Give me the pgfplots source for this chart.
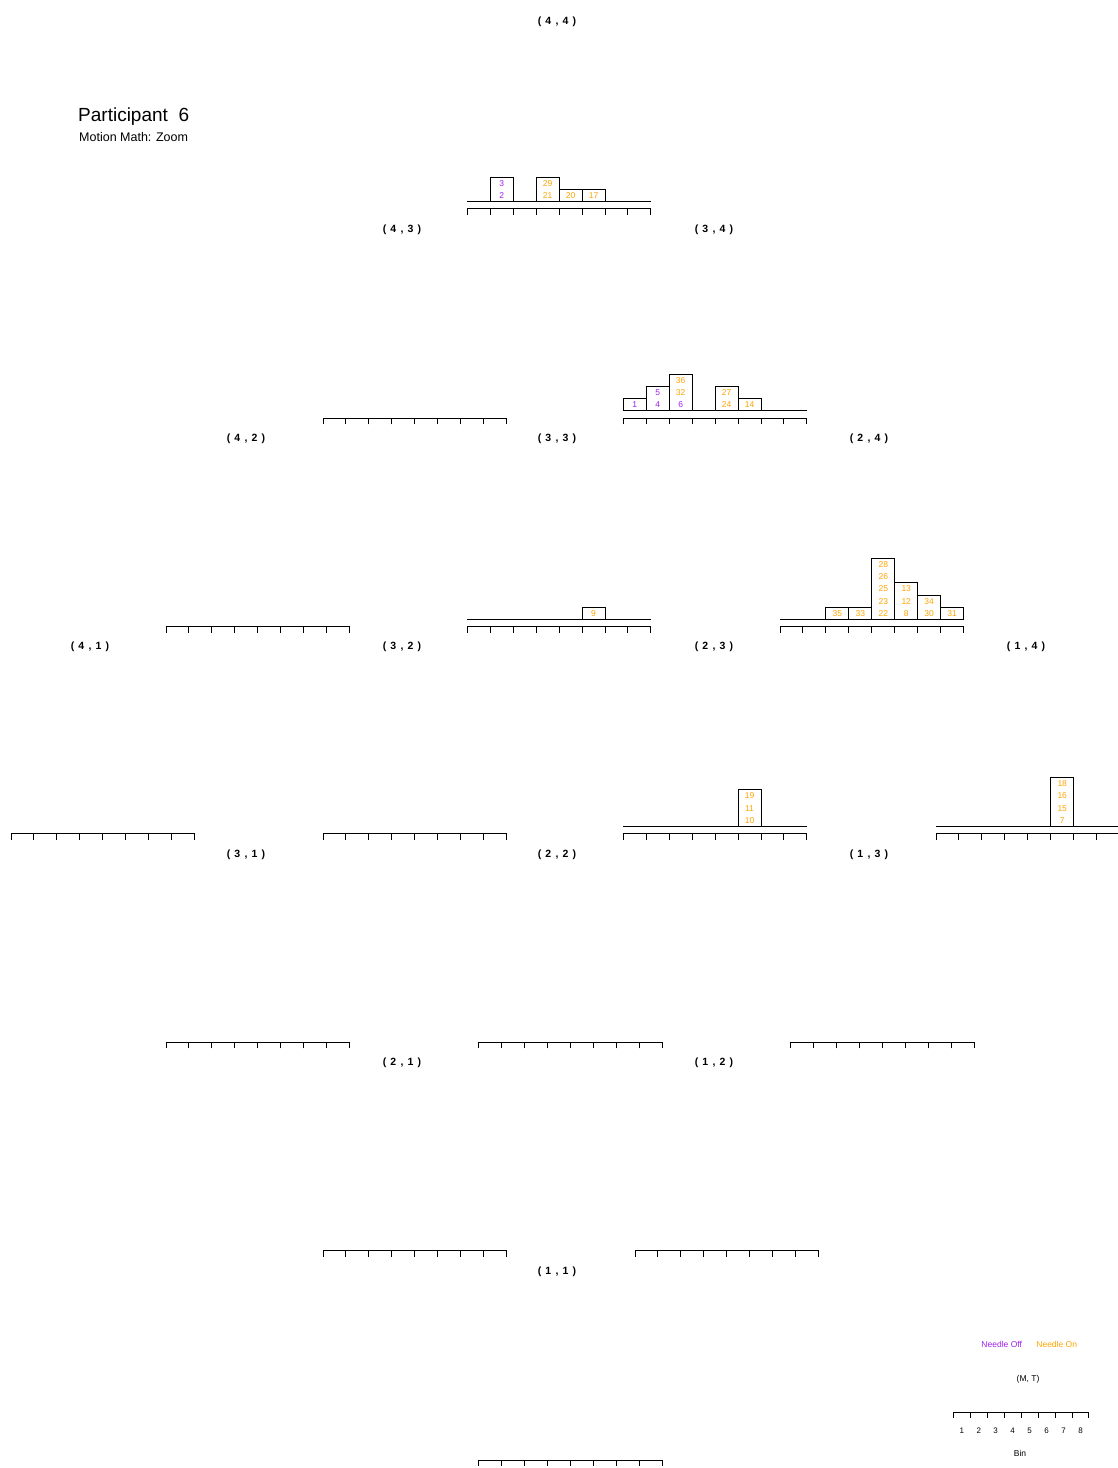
\documentclass[border=0pt]{standalone}
\usepackage{fontspec}
\setmainfont{Liberation Sans}
\usepackage{pgfplots}
\pgfplotsset{compat=1.18}
\definecolor{needleoff}{HTML}{A020F0}
\definecolor{needleon}{HTML}{FFA500}
\newcommand{\lab}[2]{{\fontsize{10.5}{12}\selectfont\bfseries (\hspace{.4em}#1\hspace{.4em},\hspace{.4em}#2\hspace{.4em})}}
\pgfplotsset{
  hist/.style={
    anchor=south west,
    x=22.95pt, y=12.3pt,
    xmin=0.5, xmax=8.5, ymin=-0.6, ymax=6,
    axis x line=bottom, axis y line=none,
    axis line style={-, line width=1pt, black},
    xtick={0.5,1.5,...,8.5}, xticklabels={},
    xtick align=outside, major tick length=6pt,
    tick style={line width=1pt, black},
    clip=false,
  },
  counts/.style={ybar, bar width=1, bar shift=0pt, fill=white, draw=black, line width=1pt},
  base/.style={black, line width=1pt},
  offlab/.style={draw=none, nodes near coords, point meta=explicit symbolic,
    every node near coord/.append style={anchor=center, text=needleoff, inner sep=0pt, font=\fontsize{8.5}{9}\selectfont}},
  onlab/.style={draw=none, nodes near coords, point meta=explicit symbolic,
    every node near coord/.append style={anchor=center, text=needleon, inner sep=0pt, font=\fontsize{8.5}{9}\selectfont}},
}
\begin{document}
\begin{tikzpicture}
\useasboundingbox (0pt,0pt) rectangle (1118pt,1468pt);
% title
\node[anchor=base west, inner sep=0pt, font=\fontsize{19}{21}\selectfont] at (78pt,1346pt) {Participant~~6};
\node[anchor=base west, inner sep=0pt, font=\fontsize{12.5}{14}\selectfont] at (79pt,1326pt) {Motion Math: Zoom};
% panel labels
\node at (557pt,1446pt) {\lab{4}{4}};
\node at (402pt,1238pt) {\lab{4}{3}};
\node at (714pt,1238pt) {\lab{3}{4}};
\node at (246pt,1029pt) {\lab{4}{2}};
\node at (557pt,1029pt) {\lab{3}{3}};
\node at (869pt,1029pt) {\lab{2}{4}};
\node at (90pt,821pt) {\lab{4}{1}};
\node at (402pt,821pt) {\lab{3}{2}};
\node at (714pt,821pt) {\lab{2}{3}};
\node at (1026pt,821pt) {\lab{1}{4}};
\node at (246pt,613pt) {\lab{3}{1}};
\node at (557pt,613pt) {\lab{2}{2}};
\node at (869pt,613pt) {\lab{1}{3}};
\node at (402pt,405pt) {\lab{2}{1}};
\node at (714pt,405pt) {\lab{1}{2}};
\node at (557pt,196pt) {\lab{1}{1}};

% (4,4)
\begin{axis}[hist, at={(467.3pt,1259pt)}]
\addplot[counts] coordinates {(2,2) (4,2) (5,1) (6,1)};
\addplot[base] coordinates {(0.5,0) (8.5,0)};
\addplot[offlab] coordinates {(2,0.5)[2] (2,1.5)[3]};
\addplot[onlab] coordinates {(4,0.5)[21] (4,1.5)[29] (5,0.5)[20] (6,0.5)[17]};
\end{axis}
% (4,3)
\begin{axis}[hist, at={(323pt,1049.7pt)}]
\end{axis}
% (3,4)
\begin{axis}[hist, at={(623.3pt,1049.7pt)}]
\addplot[counts] coordinates {(1,1) (2,2) (3,3) (5,2) (6,1)};
\addplot[base] coordinates {(0.5,0) (8.5,0)};
\addplot[offlab] coordinates {(1,0.5)[1] (2,0.5)[4] (2,1.5)[5] (3,0.5)[6]};
\addplot[onlab] coordinates {(3,1.5)[32] (3,2.5)[36] (5,0.5)[24] (5,1.5)[27] (6,0.5)[14]};
\end{axis}
% (4,2)
\begin{axis}[hist, at={(166pt,841pt)}]
\end{axis}
% (3,3)
\begin{axis}[hist, at={(467.3pt,841pt)}]
\addplot[counts] coordinates {(6,1)};
\addplot[base] coordinates {(0.5,0) (8.5,0)};
\addplot[onlab] coordinates {(6,0.5)[9]};
\end{axis}
% (2,4)
\begin{axis}[hist, at={(780pt,841pt)}]
\addplot[counts] coordinates {(3,1) (4,1) (5,5) (6,3) (7,2) (8,1)};
\addplot[base] coordinates {(0.5,0) (8.5,0)};
\addplot[onlab] coordinates {(3,0.5)[35] (4,0.5)[33] (5,0.5)[22] (5,1.5)[23] (5,2.5)[25] (5,3.5)[26] (5,4.5)[28] (6,0.5)[8] (6,1.5)[12] (6,2.5)[13] (7,0.5)[30] (7,1.5)[34] (8,0.5)[31]};
\end{axis}
% (4,1)
\begin{axis}[hist, at={(11pt,634pt)}]
\end{axis}
% (3,2)
\begin{axis}[hist, at={(323pt,634pt)}]
\end{axis}
% (2,3)
\begin{axis}[hist, at={(623.3pt,634pt)}]
\addplot[counts] coordinates {(6,3)};
\addplot[base] coordinates {(0.5,0) (8.5,0)};
\addplot[onlab] coordinates {(6,0.5)[10] (6,1.5)[11] (6,2.5)[19]};
\end{axis}
% (1,4)
\begin{axis}[hist, at={(936pt,634pt)}]
\addplot[counts] coordinates {(6,4)};
\addplot[base] coordinates {(0.5,0) (8.5,0)};
\addplot[onlab] coordinates {(6,0.5)[7] (6,1.5)[15] (6,2.5)[16] (6,3.5)[18]};
\end{axis}
% (3,1)
\begin{axis}[hist, at={(166pt,425.7pt)}]
\end{axis}
% (2,2)
\begin{axis}[hist, at={(478.7pt,425.7pt)}]
\end{axis}
% (1,3)
\begin{axis}[hist, at={(790.7pt,425.7pt)}]
\end{axis}
% (2,1)
\begin{axis}[hist, at={(323pt,217pt)}]
\end{axis}
% (1,2)
\begin{axis}[hist, at={(635pt,217pt)}]
\end{axis}
% (1,1)
\begin{axis}[hist, at={(478.7pt,8pt)}]
\end{axis}

% key
\node[text=needleoff, font=\fontsize{8.5}{9}\selectfont] at (1001.7pt,124pt) {Needle Off};
\node[text=needleon, font=\fontsize{8.5}{9}\selectfont] at (1056.7pt,124pt) {Needle On};
\node[font=\fontsize{8.5}{9}\selectfont] at (1028pt,89pt) {(M, T)};
\node[font=\fontsize{8.5}{9}\selectfont] at (1020pt,15pt) {Bin};
\begin{axis}[anchor=south west, at={(953.3pt,55.3pt)},
  x=16.96pt, y=10pt, xmin=0.5, xmax=8.5, ymin=0, ymax=1,
  axis x line=bottom, axis y line=none,
  axis line style={-, line width=1pt, black},
  xtick={0.5,1.5,...,8.5}, xticklabels={},
  xtick align=outside, major tick length=5.5pt,
  tick style={line width=1pt, black},
  extra x ticks={1,2,...,8},
  extra x tick labels={1,2,3,4,5,6,7,8},
  extra x tick style={major tick length=0pt, tick label style={yshift=-12pt, font=\fontsize{8}{9}\selectfont}},
  clip=false]
\end{axis}
\end{tikzpicture}
\end{document}
